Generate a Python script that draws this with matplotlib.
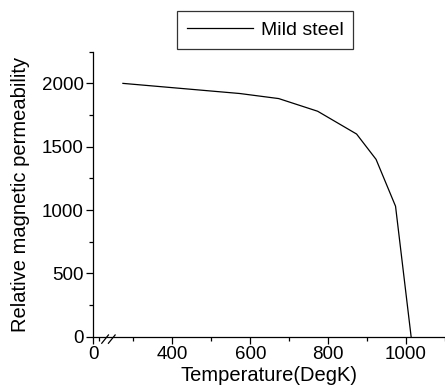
import numpy as np
import matplotlib
matplotlib.use("Agg")
import matplotlib.pyplot as plt
from matplotlib.ticker import FixedLocator

plt.rcParams['font.family'] = ['Liberation Sans', 'DejaVu Sans']

# data
temperature = [273, 573, 673, 773, 873, 923, 973, 1013]
permeability = [2000, 1920, 1880, 1780, 1600, 1400, 1030, 0]
series_name = "Mild steel"

x_major = [0, 400, 600, 800, 1000]
x_minor = [20, 300, 500, 700, 900, 1100]
y_major = [0, 500, 1000, 1500, 2000]
y_minor = [250, 750, 1250, 1750, 2250]

# broken x axis: 0..20 squeezed in front of 240..
brk_in = [0, 20, 240, 1e5]
brk_out = [197, 212, 240, 1e5]


def fwd(x):
    return np.interp(x, brk_in, brk_out)


def inv(x):
    return np.interp(x, brk_out, brk_in)


fig = plt.figure(figsize=(4.45, 3.9), dpi=100)
ax = fig.add_axes([0.2097, 0.1367, 0.7903, 0.7307])
ax.set_xscale('function', functions=(fwd, inv))

ax.plot(temperature, permeability, color='black', lw=0.9, label=series_name)

ax.set_xlim(0, 1100)
ax.set_ylim(0, 2250)
ax.xaxis.set_major_locator(FixedLocator(x_major))
ax.xaxis.set_minor_locator(FixedLocator(x_minor))
ax.set_xticklabels([str(v) for v in x_major])
ax.yaxis.set_major_locator(FixedLocator(y_major))
ax.yaxis.set_minor_locator(FixedLocator(y_minor))

for s in ['top', 'right']:
    ax.spines[s].set_visible(False)
for s in ['left', 'bottom']:
    ax.spines[s].set_linewidth(0.9)

ax.tick_params(which='major', direction='out', length=5, width=0.9, labelsize=13.5, pad=2)
ax.tick_params(which='minor', direction='out', length=3, width=0.9)

ax.set_xlabel('Temperature(DegK)', fontsize=14.5, labelpad=2)
ax.set_ylabel('Relative magnetic permeability', fontsize=14.5, labelpad=8)

# break marks on the x axis (axes fraction)
for x0 in [0.024, 0.043]:
    ax.plot([x0, x0 + 0.019], [-0.023, 0.006], transform=ax.transAxes,
            color='black', lw=0.9, clip_on=False)

leg = fig.legend(loc='center', bbox_to_anchor=(265 / 445, 1 - 30 / 390),
                 frameon=True, fancybox=False, fontsize=14, handlelength=3.4,
                 handletextpad=0.4, borderpad=0.5, borderaxespad=0)
leg.get_frame().set_edgecolor('black')
leg.get_frame().set_linewidth(0.9)

fig.savefig('out.png', dpi=100)
